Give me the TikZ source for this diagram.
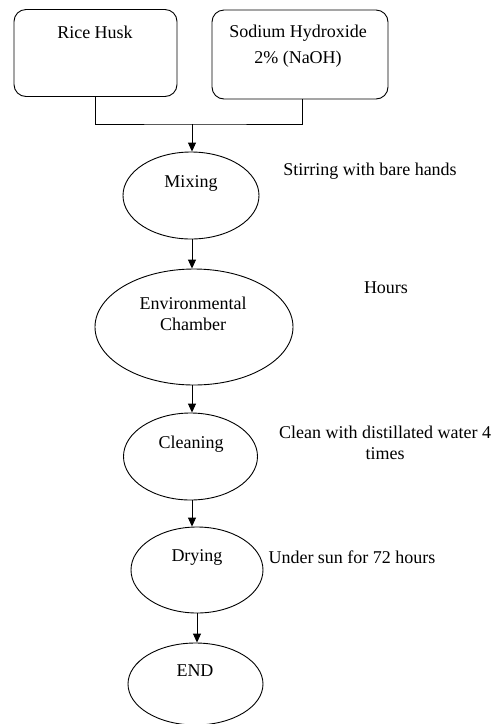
\documentclass[tikz,border=0pt]{standalone}
\usepackage{fontspec}
\setmainfont{Liberation Serif}
\usetikzlibrary{shapes.geometric,arrows.meta}
\begin{document}
\begin{tikzpicture}[x=1pt,y=-1pt,
  every node/.style={font=\fontsize{18}{21}\selectfont},
  box/.style={draw,line width=0.9pt,rounded corners=12pt,inner sep=0pt},
  oval/.style={draw,line width=0.9pt,ellipse,inner sep=0pt},
  txt/.style={inner sep=0pt,align=center},
  line/.style={line width=0.9pt},
  arr/.style={line width=0.9pt,-{Triangle[length=9pt,width=8pt]}}]
\useasboundingbox (0,0) rectangle (495,724);
% boxes
\node[box,minimum width=163pt,minimum height=87pt] (rh) at (95.5,53) {};
\node[box,minimum width=176pt,minimum height=89pt] (sod) at (300,54.5) {};
\node[txt] (rht) at (95,32) {Rice Husk};
\node[txt,font=\fontsize{18}{26}\selectfont] (sodt) at (298,46) {Sodium Hydroxide\\2\% (NaOH)};
% ellipses
\node[oval,minimum width=136pt,minimum height=87pt] (mix) at (191,195.5) {};
\node[txt] (mixt) at (191,183) {Mixing};
\node[oval,minimum width=198pt,minimum height=116pt] (env) at (194,327) {};
\node[txt] (envt) at (193,314) {Environmental\\Chamber};
\node[oval,minimum width=134pt,minimum height=87pt] (cln) at (190.5,456.5) {};
\node[txt] (clnt) at (191,444) {Cleaning};
\node[oval,minimum width=132pt,minimum height=86pt] (dry) at (197,570) {};
\node[txt] (dryt) at (197,557) {Drying};
\node[oval,minimum width=135pt,minimum height=82pt] (end) at (195.5,684) {};
\node[txt] (endt) at (195,671) {END};
% side notes
\node[txt] (n1) at (370,171) {Stirring with bare hands};
\node[txt] (n2) at (386,288) {Hours};
\node[txt] (n3) at (385,443) {Clean with distillated water 4\\times};
\node[txt] (n4) at (352,557) {Under sun for 72 hours};
% connectors
\coordinate (j) at (192,124);
\draw[line] (rh.south) |- (j) -| ([xshift=2pt]sod.south);
\draw[arr] (j) -- (j |- mix.north);
\draw[arr] (mix.south -| 192,0) -- (192,0 |- env.north);
\draw[arr] (env.south -| 192,0) -- (192,0 |- cln.north);
\draw[arr] (cln.south -| 192,0) -- (192,0 |- dry.north);
\draw[arr] (dry.south) -- (dry.south |- end.north);
\end{tikzpicture}
\end{document}
